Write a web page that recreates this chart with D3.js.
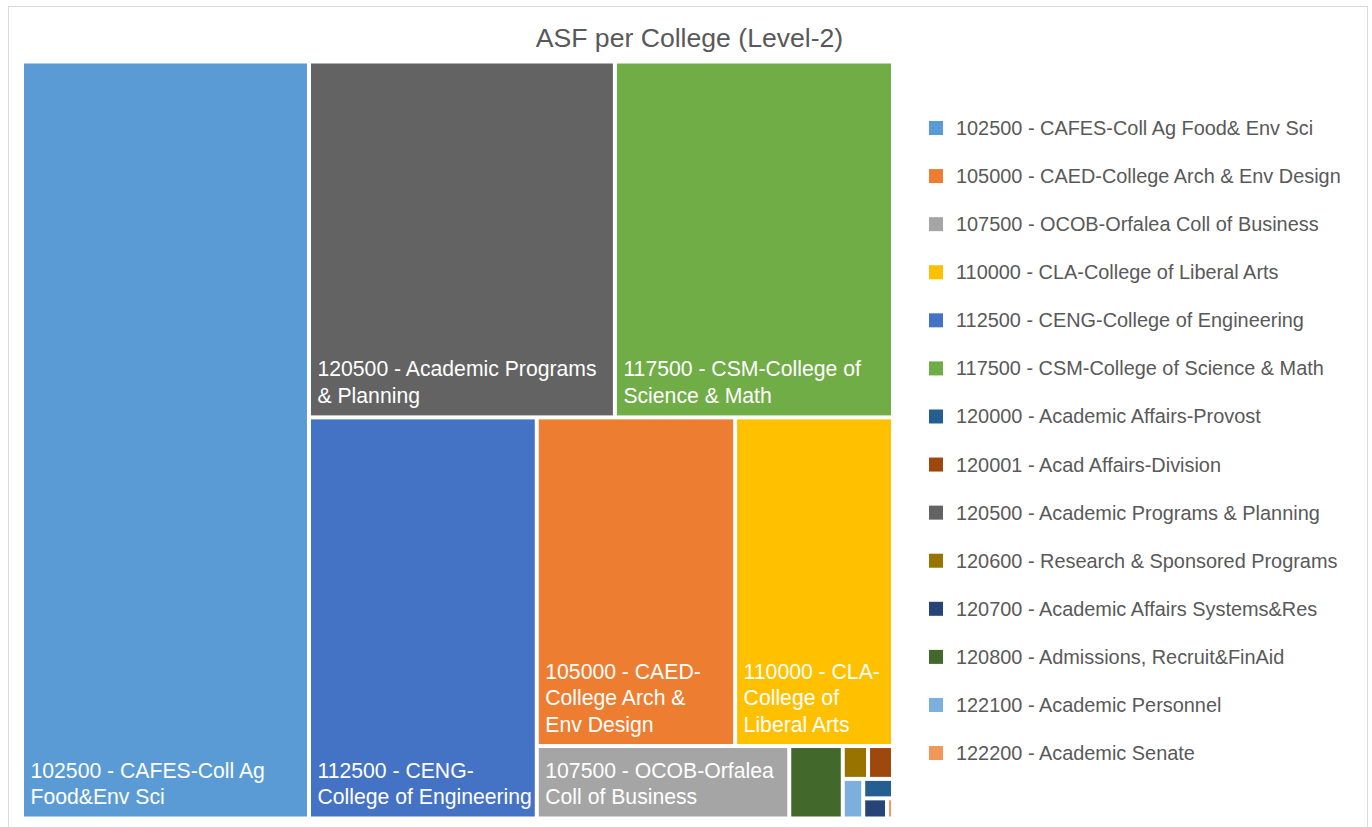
<!DOCTYPE html>
<html>
<head>
<meta charset="utf-8">
<script src="https://cdn.jsdelivr.net/npm/d3@7"></script>
<style>
  html, body { margin: 0; padding: 0; background: #ffffff; }
  svg { display: block; font-family: "Liberation Sans", Arial, Helvetica, sans-serif; }
</style>
</head>
<body>
<svg id="chart" width="1372" height="827"></svg>
<script>
// ---------------- data ----------------
const chartTitle = "ASF per College (Level-2)";

const categories = [
  "102500 - CAFES-Coll Ag Food& Env Sci",
  "105000 - CAED-College Arch & Env Design",
  "107500 - OCOB-Orfalea Coll of Business",
  "110000 - CLA-College of Liberal Arts",
  "112500 - CENG-College of Engineering",
  "117500 - CSM-College of Science & Math",
  "120000 - Academic Affairs-Provost",
  "120001 - Acad Affairs-Division",
  "120500 - Academic Programs & Planning",
  "120600 - Research & Sponsored Programs",
  "120700 - Academic Affairs Systems&Res",
  "120800 - Admissions, Recruit&FinAid",
  "122100 - Academic Personnel",
  "122200 - Academic Senate"
];

// estimated ASF values
const asfValues = [217300, 65200, 18300, 51900, 91400, 99000, 580, 820, 108900, 830, 480, 3880, 810, 120];

// data label text as wrapped in the picture ("" = no label)
const cellLabels = [
  "102500 - CAFES-Coll Ag\nFood&Env Sci",
  "105000 - CAED-\nCollege Arch &\nEnv Design",
  "107500 - OCOB-Orfalea\nColl of Business",
  "110000 - CLA-\nCollege of\nLiberal Arts",
  "112500 - CENG-\nCollege of Engineering",
  "117500 - CSM-College of\nScience & Math",
  "", "",
  "120500 - Academic Programs\n& Planning",
  "", "", "", "", ""
];

const colors = [
  "#5B9BD5", "#ED7D31", "#A5A5A5", "#FFC000", "#4472C4", "#70AD47",
  "#255E91", "#9E480E", "#636363", "#997300", "#264478", "#43682B",
  "#7CAFDD", "#F1975A"
];

// number of cells in each successive strip of the layout
const stripCounts = [1, 2, 1, 2, 1, 1, 2, 1, 1, 1, 1];

// ---------------- layout ----------------
const svg = d3.select("#chart");

// outer chart frame
svg.append("rect")
  .attr("x", 8.5).attr("y", 6.5).attr("width", 1359).attr("height", 840)
  .attr("fill", "#fff").attr("stroke", "#D9D9D9").attr("stroke-width", 1);

svg.append("text")
  .attr("x", 689.5).attr("y", 47)
  .attr("text-anchor", "middle")
  .attr("font-size", 26.6)
  .attr("fill", "#595959")
  .text(chartTitle);

const area = { x: 24, y: 63.5, w: 867, h: 753 };

function stripTile(counts) {
  return function(parent, x0, y0, x1, y1) {
    const nodes = parent.children;
    let value = parent.value, i = 0, k = 0;
    while (i < nodes.length) {
      const n = counts[k++] || (nodes.length - i);
      const row = nodes.slice(i, i + n);
      const sum = d3.sum(row, d => d.value);
      const dx = x1 - x0, dy = y1 - y0;
      const rowNode = { value: sum, children: row };
      if (dx < dy) {
        const yy = y0 + dy * sum / value;
        d3.treemapDice(rowNode, x0, y0, x1, yy);
        y0 = yy;
      } else {
        const xx = x0 + dx * sum / value;
        d3.treemapSlice(rowNode, x0, y0, xx, y1);
        x0 = xx;
      }
      value -= sum;
      i += n;
    }
  };
}

const tableData = {
  name: "root",
  children: categories.map((c, i) => ({ name: c, value: asfValues[i], label: cellLabels[i], color: colors[i] }))
};

const root = d3.hierarchy(tableData)
  .sum(d => d.value || 0)
  .sort((a, b) => b.value - a.value);

d3.treemap()
  .size([area.w, area.h])
  .paddingInner(4)
  .tile(stripTile(stripCounts))(root);

const g = svg.append("g").attr("transform", `translate(${area.x},${area.y})`);

const cells = g.selectAll("g.cell")
  .data(root.leaves())
  .join("g")
  .attr("class", "cell");

cells.append("rect")
  .attr("x", d => d.x0)
  .attr("y", d => d.y0)
  .attr("width", d => Math.max(0, d.x1 - d.x0))
  .attr("height", d => Math.max(0, d.y1 - d.y0))
  .attr("fill", d => d.data.color);

const lineH = 26.5;
cells.filter(d => d.data.label)
  .each(function(d) {
    const lines = d.data.label.split("\n");
    const t = d3.select(this).append("text")
      .attr("font-size", 21.2)
      .attr("fill", "#ffffff");
    const baseY = d.y1 - 12.5 - (lines.length - 1) * lineH;
    lines.forEach((ln, j) => {
      t.append("tspan")
        .attr("x", d.x0 + 6.5)
        .attr("y", baseY + j * lineH)
        .text(ln);
    });
  });

// ---------------- legend ----------------
const legend = svg.append("g").attr("transform", "translate(929,128)");
const legItems = legend.selectAll("g")
  .data(categories)
  .join("g")
  .attr("transform", (d, i) => `translate(0,${i * 48.08})`);

legItems.append("rect")
  .attr("x", 0).attr("y", -7)
  .attr("width", 14).attr("height", 14)
  .attr("fill", (d, i) => colors[i]);

legItems.append("text")
  .attr("x", 27).attr("y", 7)
  .attr("font-size", 19.9)
  .attr("fill", "#595959")
  .text(d => d);
</script>
</body>
</html>
